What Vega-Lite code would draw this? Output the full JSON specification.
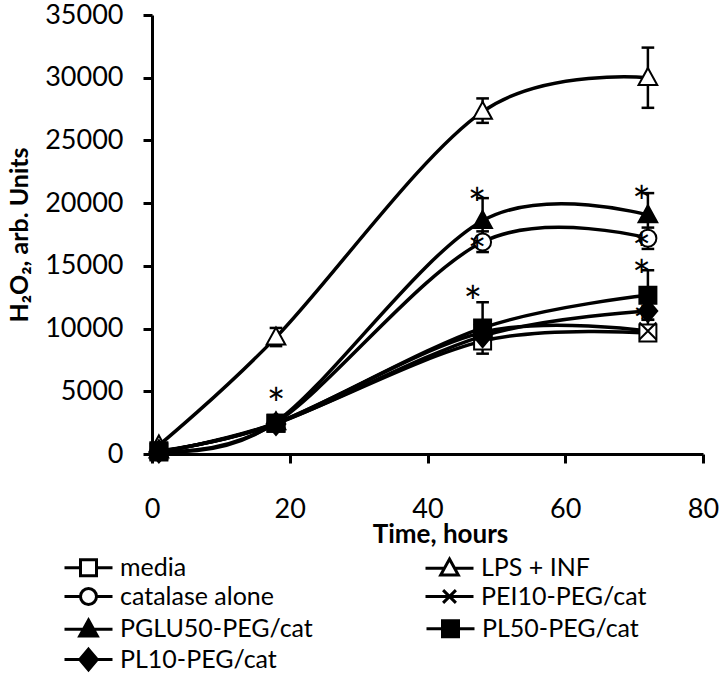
{
  "$schema": "https://vega.github.io/schema/vega-lite/v6.json",
  "width": 551,
  "height": 439,
  "autosize": {"type": "none"},
  "padding": {"left": 152, "top": 15, "right": 22, "bottom": 222},
  "background": "white",
  "config": {
    "view": {"stroke": null},
    "font": "Lato",
    "axis": {
      "grid": false,
      "domainColor": "black",
      "domainWidth": 3,
      "tickColor": "black",
      "tickWidth": 3,
      "tickSize": 9,
      "labelColor": "black",
      "labelFont": "Lato",
      "labelFontSize": 27,
      "titleColor": "black",
      "titleFont": "Lato",
      "titleFontWeight": "bold"
    },
    "legend": {
      "title": null,
      "orient": "none",
      "direction": "horizontal",
      "columns": 2,
      "rowPadding": 0,
      "padding": 0,
      "symbolSize": 256,
      "symbolStrokeWidth": 3,
      "symbolOpacity": 1,
      "labelFont": "Lato",
      "labelFontSize": 25,
      "labelColor": "black",
      "labelOffset": 19,
      "labelLimit": 0
    }
  },
  "datasets": {
    "pts": [
      {"series": "media", "t": 1, "v": 150},
      {"series": "media", "t": 18, "v": 2450},
      {"series": "media", "t": 48, "v": 9000, "lo": 8700, "hi": 9300},
      {"series": "media", "t": 72, "v": 9650, "lo": 9400, "hi": 9900},
      {"series": "LPS + INF", "t": 1, "v": 700},
      {"series": "LPS + INF", "t": 18, "v": 9300, "lo": 8600, "hi": 10050},
      {"series": "LPS + INF", "t": 48, "v": 27300, "lo": 26400, "hi": 28350},
      {"series": "LPS + INF", "t": 72, "v": 30000, "lo": 27600, "hi": 32400},
      {"series": "catalase alone", "t": 1, "v": 250},
      {"series": "catalase alone", "t": 18, "v": 2500},
      {"series": "catalase alone", "t": 48, "v": 16900, "lo": 16100, "hi": 17750},
      {"series": "catalase alone", "t": 72, "v": 17200, "lo": 16350, "hi": 18050},
      {"series": "PEI10-PEG/cat", "t": 1, "v": 200},
      {"series": "PEI10-PEG/cat", "t": 18, "v": 2450},
      {"series": "PEI10-PEG/cat", "t": 48, "v": 9700},
      {"series": "PEI10-PEG/cat", "t": 72, "v": 9800, "lo": 9600, "hi": 10700},
      {"series": "PGLU50-PEG/cat", "t": 1, "v": 300},
      {"series": "PGLU50-PEG/cat", "t": 18, "v": 2550},
      {"series": "PGLU50-PEG/cat", "t": 48, "v": 18600, "lo": 16800, "hi": 20400},
      {"series": "PGLU50-PEG/cat", "t": 72, "v": 19050, "lo": 17300, "hi": 20800},
      {"series": "PL50-PEG/cat", "t": 1, "v": 250},
      {"series": "PL50-PEG/cat", "t": 18, "v": 2450},
      {"series": "PL50-PEG/cat", "t": 48, "v": 10050, "lo": 8000, "hi": 12100},
      {"series": "PL50-PEG/cat", "t": 72, "v": 12650, "lo": 10700, "hi": 14650},
      {"series": "PL10-PEG/cat", "t": 1, "v": 200},
      {"series": "PL10-PEG/cat", "t": 18, "v": 2400},
      {"series": "PL10-PEG/cat", "t": 48, "v": 9400},
      {"series": "PL10-PEG/cat", "t": 72, "v": 11400}
    ],
    "stars": [
      {"t": 18, "v": 4700, "sym": "*"},
      {"t": 47.2, "v": 20650, "sym": "*"},
      {"t": 47.2, "v": 16800, "sym": "*"},
      {"t": 46.6, "v": 12850, "sym": "*"},
      {"t": 71.1, "v": 20800, "sym": "*"},
      {"t": 71.1, "v": 17050, "sym": "*"},
      {"t": 71.1, "v": 14900, "sym": "*"},
      {"t": 71.2, "v": 11250, "sym": "*"}
    ]
  },
  "layer": [
    {
      "data": {"name": "pts"},
      "mark": {"type": "line", "interpolate": "cardinal", "stroke": "black", "strokeWidth": 3.5},
      "encoding": {
        "x": {
          "field": "t", "type": "quantitative",
          "scale": {"domain": [0, 80], "nice": false, "zero": false},
          "axis": {
            "values": [0, 20, 40, 60, 80],
            "labelFlush": false,
            "labelBaseline": "alphabetic",
            "labelPadding": 54,
            "title": "Time, hours",
            "titleFontSize": 26,
            "titleX": 288,
            "titleY": 88,
            "titleBaseline": "alphabetic"
          }
        },
        "y": {
          "field": "v", "type": "quantitative",
          "scale": {"domain": [0, 35000], "nice": false},
          "axis": {
            "values": [0, 5000, 10000, 15000, 20000, 25000, 30000, 35000],
            "format": "d",
            "labelFlush": false,
            "labelPadding": 20,
            "labelBaseline": "middle",
            "title": "H₂O₂, arb. Units",
            "titleFontSize": 25,
            "titleX": -125,
            "titleBaseline": "alphabetic"
          }
        },
        "detail": {"field": "series"}
      }
    },
    {
      "data": {"name": "pts"},
      "transform": [{"filter": "isValid(datum.hi)"}],
      "mark": {"type": "rule", "stroke": "black", "strokeWidth": 2.5},
      "encoding": {
        "x": {"field": "t", "type": "quantitative"},
        "y": {"field": "lo", "type": "quantitative"},
        "y2": {"field": "hi"}
      }
    },
    {
      "data": {"name": "pts"},
      "transform": [{"filter": "isValid(datum.hi)"}],
      "mark": {"type": "point", "shape": "M-1,0H1", "size": 160, "filled": false, "stroke": "black", "strokeWidth": 2.5, "opacity": 1},
      "encoding": {
        "x": {"field": "t", "type": "quantitative"},
        "y": {"field": "hi", "type": "quantitative"}
      }
    },
    {
      "data": {"name": "pts"},
      "transform": [{"filter": "isValid(datum.lo)"}],
      "mark": {"type": "point", "shape": "M-1,0H1", "size": 160, "filled": false, "stroke": "black", "strokeWidth": 2.5, "opacity": 1},
      "encoding": {
        "x": {"field": "t", "type": "quantitative"},
        "y": {"field": "lo", "type": "quantitative"}
      }
    },
    {
      "data": {"name": "pts"},
      "mark": {"type": "point", "filled": true, "size": 289, "stroke": "black", "strokeWidth": 2, "opacity": 1},
      "encoding": {
        "x": {"field": "t", "type": "quantitative"},
        "y": {"field": "v", "type": "quantitative"},
        "shape": {
          "field": "series", "type": "nominal",
          "scale": {
            "domain": ["media", "LPS + INF", "catalase alone", "PEI10-PEG/cat", "PGLU50-PEG/cat", "PL50-PEG/cat", "PL10-PEG/cat"],
            "range": ["M-1,-1H1V1H-1Z", "M0,-1.15L1.1,0.85H-1.1Z", "circle", "M-1,-1L1,1M-1,1L1,-1", "M0,-1.15L1.1,0.85H-1.1Z", "M-1,-1H1V1H-1Z", "M0,-1.3L1.1,0L0,1.3L-1.1,0Z"]
          },
          "legend": null
        },
        "fill": {
          "field": "series", "type": "nominal",
          "scale": {
            "domain": ["media", "LPS + INF", "catalase alone", "PEI10-PEG/cat", "PGLU50-PEG/cat", "PL50-PEG/cat", "PL10-PEG/cat"],
            "range": ["white", "white", "white", "white", "black", "black", "black"]
          },
          "legend": null
        }
      }
    },
    {
      "data": {"name": "stars"},
      "mark": {"type": "text", "font": "Lato", "fontSize": 44, "baseline": "alphabetic", "align": "center", "dy": 25, "fill": "black"},
      "encoding": {
        "x": {"field": "t", "type": "quantitative"},
        "y": {"field": "v", "type": "quantitative"},
        "text": {"field": "sym"}
      }
    },
    {
      "data": {"name": "pts"},
      "transform": [{"filter": "datum.t == 1 && indexof(['media', 'LPS + INF', 'catalase alone', 'PEI10-PEG/cat'], datum.series) >= 0"}],
      "mark": {"type": "point", "opacity": 0, "filled": true, "fill": "white", "stroke": "black", "strokeWidth": 3},
      "encoding": {
        "x": {"field": "t", "type": "quantitative"},
        "y": {"field": "v", "type": "quantitative"},
        "shape": {
          "field": "series", "type": "nominal",
          "scale": {
            "domain": ["media", "LPS + INF", "catalase alone", "PEI10-PEG/cat"],
            "range": [
              "M-3,0H-1M1,0H3M-1,-1H1V1H-1Z",
              "M-3,0H-0.6M0.6,0H3M0,-1.15L1.1,0.85H-1.1Z",
              "M-3,0H-1M1,0H3M-1,0A1,1 0 1,0 1,0A1,1 0 1,0 -1,0Z",
              "M-3,0H3M-0.8,-0.8L0.8,0.8M-0.8,0.8L0.8,-0.8"
            ]
          },
          "legend": {
            "legendX": -76,
            "legendY": 540,
            "columnPadding": 145
          }
        }
      }
    },
    {
      "data": {"name": "pts"},
      "transform": [{"filter": "datum.t == 1 && indexof(['PGLU50-PEG/cat', 'PL50-PEG/cat', 'PL10-PEG/cat'], datum.series) >= 0"}],
      "mark": {"type": "point", "opacity": 0, "filled": true, "fill": "black", "stroke": "black", "strokeWidth": 3},
      "encoding": {
        "x": {"field": "t", "type": "quantitative"},
        "y": {"field": "v", "type": "quantitative"},
        "shape": {
          "field": "series", "type": "nominal",
          "scale": {
            "domain": ["PGLU50-PEG/cat", "PL50-PEG/cat", "PL10-PEG/cat"],
            "range": [
              "M-3,0H3M0,-1.15L1.1,0.85H-1.1Z",
              "M-3,0H3M-1,-1H1V1H-1Z",
              "M-3,0H3M0,-1.3L1.1,0L0,1.3L-1.1,0Z"
            ]
          },
          "legend": {
            "legendX": -76,
            "legendY": 601,
            "columnPadding": 107
          }
        }
      }
    }
  ],
  "resolve": {"scale": {"shape": "independent"}}
}
